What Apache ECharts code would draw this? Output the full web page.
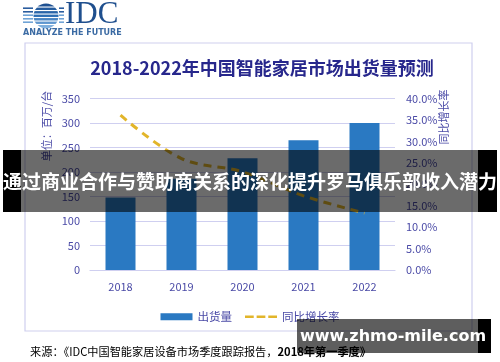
<!DOCTYPE html>
<html>
<head>
<meta charset="utf-8">
<script src="https://cdn.jsdelivr.net/npm/echarts@6/dist/echarts.min.js"></script>
<style>
html,body{margin:0;padding:0;background:#fff;}
#c{width:500px;height:362px;}
</style>
</head>
<body>
<div id="c"></div>
<script>
var categories = ['2018', '2019', '2020', '2021', '2022'];
var shipments = [148, 186, 228, 265, 300];
var growthRate = [36.1, 26.0, 22.9, 17.3, 13.3];
var leftTicks = {min: 0, max: 350, interval: 50};
var rightTicks = {min: 0, max: 40, interval: 5};

var titleText = '2018-2022年中国智能家居市场出货量预测';
var bannerText = '通过商业合作与赞助商关系的深化提升罗马俱乐部收入潜力';
var watermarkText = 'www.zhmo-mile.com';
var sourceA = '来源：《IDC中国智能家居设备市场季度跟踪报告，';
var sourceB = '2018年第一季度》';

var FONT = '"Noto Sans CJK SC", "Noto Sans", sans-serif';
var labelColor = '#4a4aa6';
var gridColor = '#cfcff0';
var lineColor = '#e2b52a';

var chart = echarts.init(document.getElementById('c'), null, {renderer: 'canvas'});

var logo = [];
logo.push({type: 'circle', shape: {cx: 46, cy: 16, r: 12.5}, z: 50,
  style: {fill: new echarts.graphic.LinearGradient(0, 0, 0, 1, [
    {offset: 0, color: '#1c4c8c'}, {offset: 0.5, color: '#2e6fb5'}, {offset: 1, color: '#8dbbe6'}])}});
[6.5, 10, 13.5, 17, 20.5, 24].forEach(function (y) {
  logo.push({type: 'rect', shape: {x: 30, y: y, width: 32, height: 1.1}, z: 51, style: {fill: '#ffffff'}});
});
[8.2, 11.8, 15.2, 18.8, 22.2].forEach(function (y, i) {
  logo.push({type: 'line', shape: {x1: 23, y1: y, x2: 33, y2: y}, z: 51,
    style: {stroke: i < 2 ? '#2a5d9e' : '#6fa3d6', lineWidth: 1.6}});
  logo.push({type: 'line', shape: {x1: 59, y1: y, x2: 64, y2: y}, z: 51,
    style: {stroke: i < 2 ? '#2a5d9e' : '#6fa3d6', lineWidth: 1.6}});
});
logo.push({type: 'text', x: 65, y: 15, z: 51,
  style: {text: 'IDC', font: '31px "Liberation Serif", "DejaVu Serif", serif', fill: '#1f4f8e', textVerticalAlign: 'middle', textAlign: 'left'}});
logo.push({type: 'text', x: 23, y: 33, z: 51,
  style: {text: 'ANALYZE THE FUTURE', font: 'bold 8px "DejaVu Sans", sans-serif', fill: '#3a6aa3', textVerticalAlign: 'middle', textAlign: 'left'}});

var graphics = logo.concat([
  {type: 'rect', shape: {x: 25, y: 43, width: 447, height: 288}, z: 1, silent: true,
    style: {fill: 'none', stroke: '#cfcfee', lineWidth: 1.2}},
  {type: 'text', x: 262, y: 68, z: 5,
    style: {text: titleText, font: 'bold 18px ' + FONT, fill: '#27278c', textAlign: 'center', textVerticalAlign: 'middle'}},
  {type: 'text', x: 47, y: 126, rotation: Math.PI / 2, z: 5,
    style: {text: '单位：百万/台', font: '11px ' + FONT, fill: labelColor, textAlign: 'center', textVerticalAlign: 'middle'}},
  {type: 'text', x: 444, y: 117, rotation: Math.PI / 2, z: 5,
    style: {text: '同比增长率', font: '11px ' + FONT, fill: labelColor, textAlign: 'center', textVerticalAlign: 'middle'}},
  {type: 'text', x: 30, y: 352, z: 5,
    style: {text: '{a|' + sourceA + '}{b|' + sourceB + '}', textVerticalAlign: 'middle', textAlign: 'left',
      rich: {a: {fontSize: 11.2, fontFamily: FONT, color: '#3c3ca6'},
             b: {fontSize: 11.2, fontFamily: FONT, fontWeight: 'bold', color: '#2e2e88'}}}},
  {type: 'rect', shape: {x: 3, y: 150, width: 18, height: 62}, z: 100, style: {fill: '#000'}},
  {type: 'rect', shape: {x: 21, y: 150, width: 457, height: 62}, z: 100, style: {fill: 'rgba(0,0,0,0.58)'}},
  {type: 'rect', shape: {x: 478, y: 150, width: 19, height: 62}, z: 100, style: {fill: '#000'}},
  {type: 'text', x: 250, y: 182, z: 101,
    style: {text: bannerText, font: 'bold 19px ' + FONT, fill: '#ffffff', textAlign: 'center', textVerticalAlign: 'middle'}},
  {type: 'rect', shape: {x: 297, y: 319, width: 181, height: 34}, z: 100, style: {fill: 'rgba(0,0,0,0.63)'}},
  {type: 'rect', shape: {x: 478, y: 319, width: 13, height: 34}, z: 100, style: {fill: '#000'}},
  {type: 'text', x: 393, y: 337, z: 101,
    style: {text: watermarkText, font: 'bold 16px "DejaVu Sans", "Noto Sans", sans-serif', fill: '#ffffff', textAlign: 'center', textVerticalAlign: 'middle'}}
]);

var dashIcon = 'path://M0,0h0.1v0.1h-0.1z M0,2.2h9v2.6h-9z M12,2.2h9v2.6h-9z M24,2.2h9v2.6h-9z M32.9,6.9h0.1v0.1h-0.1z';

chart.setOption({
  animation: false,
  backgroundColor: '#ffffff',
  textStyle: {fontFamily: FONT},
  grid: {left: 90, right: 105, top: 98.5, bottom: 92, containLabel: false},
  legend: {
    top: 306, left: 'center',
    itemWidth: 32, itemHeight: 7, itemGap: 13,
    textStyle: {fontSize: 11.5, color: labelColor, fontFamily: FONT},
    data: [
      {name: '出货量', icon: 'rect'},
      {name: '同比增长率', icon: dashIcon, itemStyle: {color: lineColor}}
    ]
  },
  xAxis: {
    type: 'category', data: categories,
    axisLine: {lineStyle: {color: gridColor, width: 1.2}},
    axisTick: {show: false},
    axisLabel: {fontSize: 11, color: labelColor, margin: 11}
  },
  yAxis: [
    {type: 'value', min: leftTicks.min, max: leftTicks.max, interval: leftTicks.interval,
      axisLine: {show: false}, axisTick: {show: false},
      splitLine: {lineStyle: {color: gridColor, width: 1.2}},
      axisLabel: {fontSize: 11, color: labelColor, margin: 10}},
    {type: 'value', min: rightTicks.min, max: rightTicks.max, interval: rightTicks.interval,
      axisLine: {show: false}, axisTick: {show: false}, splitLine: {show: false},
      axisLabel: {fontSize: 11, color: labelColor, margin: 11,
        formatter: function (v) { return v.toFixed(1) + '%'; }}}
  ],
  series: [
    {name: '出货量', type: 'bar', data: shipments, barWidth: 30, yAxisIndex: 0,
      itemStyle: {color: '#2a79c2'}},
    {name: '同比增长率', type: 'line', data: growthRate, yAxisIndex: 1, smooth: 0.35,
      symbol: 'none', z: 5,
      lineStyle: {color: lineColor, width: 3, type: [8, 6]},
      itemStyle: {color: lineColor}}
  ],
  graphic: graphics
});
</script>
</body>
</html>
